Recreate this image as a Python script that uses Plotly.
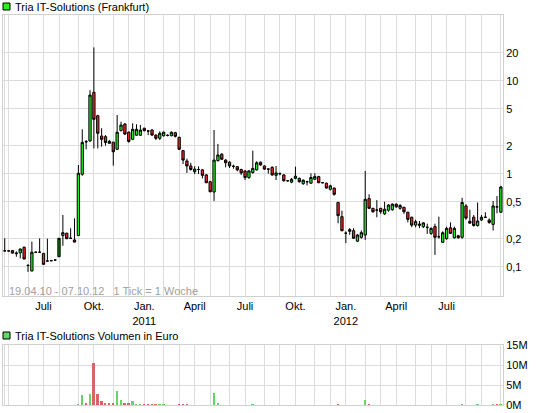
import datetime as dt
import plotly.graph_objects as go

# Weekly quotes, one entry per week starting Monday 19.04.2010
first_week = dt.date(2010, 4, 19)

opens = [
    0.148, 0.148, 0.149, 0.138, 0.141, 0.162, 0.103, 0.090, 0.143, 0.143,
    0.139, 0.115, 0.116, 0.118, 0.128, 0.216, 0.229, 0.202, 0.194, 0.216,
    0.985, 2.22, 2.25, 7.5, 4.2, 2.54, 2.5, 2.23, 2.18, 1.83,
    2.9, 3.42, 2.79, 2.34, 2.59, 2.59, 3.08, 2.88, 2.95, 2.6,
    2.4, 2.56, 2.58, 2.56, 2.76, 2.46, 1.77, 1.37, 1.21, 1.05,
    1.11, 1.1, 0.97, 0.82, 0.635, 1.38, 1.62, 1.4, 1.33, 1.2,
    1.19, 1.11, 1.07, 0.91, 1.03, 1.1, 1.33, 1.21, 1.12, 1.17,
    0.96, 1.0, 0.97, 0.84, 0.81, 0.89, 0.89, 0.78, 0.82, 0.79,
    0.87, 0.93, 0.8, 0.79, 0.68, 0.7, 0.49, 0.345, 0.229, 0.24,
    0.244, 0.188, 0.207, 0.219, 0.54, 0.424, 0.406, 0.424, 0.37, 0.405,
    0.41, 0.47, 0.425, 0.435, 0.385, 0.34, 0.28, 0.278, 0.269, 0.265,
    0.228, 0.27, 0.21, 0.183, 0.2, 0.262, 0.205, 0.215, 0.207, 0.45,
    0.308, 0.34, 0.277, 0.318, 0.34, 0.318, 0.285, 0.44, 0.385,
]
highs = [
    0.202, 0.150, 0.151, 0.146, 0.156, 0.164, 0.107, 0.186, 0.145, 0.202,
    0.140, 0.200, 0.117, 0.119, 0.130, 0.36, 0.232, 0.259, 0.331, 1.24,
    3.0, 2.3, 7.9, 22.8, 4.3, 3.08, 2.6, 2.3, 2.2, 4.27,
    3.62, 3.5, 2.85, 3.48, 3.4, 3.34, 3.12, 2.95, 3.0, 2.65,
    2.85, 2.85, 2.65, 2.85, 2.82, 2.5, 1.8, 1.45, 1.31, 1.2,
    1.2, 1.12, 0.99, 0.84, 2.95, 2.09, 1.66, 1.43, 1.36, 1.25,
    1.21, 1.13, 1.09, 1.09, 1.77, 1.36, 1.35, 1.23, 1.14, 1.2,
    1.21, 1.03, 0.99, 0.85, 0.9, 1.19, 0.91, 0.87, 0.84, 1.01,
    1.01, 0.95, 0.81, 0.8, 0.76, 0.71, 0.5, 0.4, 0.24, 0.26,
    0.26, 0.225, 0.245, 1.07, 0.6, 0.43, 0.52, 0.43, 0.5, 0.47,
    0.48, 0.48, 0.47, 0.44, 0.39, 0.345, 0.32, 0.31, 0.3, 0.29,
    0.265, 0.29, 0.345, 0.24, 0.27, 0.3, 0.27, 0.22, 0.55, 0.47,
    0.41, 0.36, 0.49, 0.36, 0.385, 0.33, 0.51, 0.575, 0.74,
]
lows = [
    0.147, 0.146, 0.139, 0.128, 0.123, 0.120, 0.088, 0.089, 0.142, 0.142,
    0.105, 0.114, 0.115, 0.117, 0.127, 0.168, 0.198, 0.200, 0.182, 0.214,
    0.95, 1.83, 2.2, 1.87, 1.87, 1.95, 2.0, 2.1, 1.22, 1.8,
    2.85, 2.6, 2.15, 2.3, 2.55, 2.55, 2.85, 2.6, 2.55, 2.3,
    2.3, 2.5, 2.52, 2.52, 2.45, 1.8, 1.27, 1.02, 1.08, 0.99,
    0.99, 0.89, 0.79, 0.63, 0.51, 1.35, 1.4, 1.17, 1.15, 1.13,
    1.06, 0.97, 0.855, 0.88, 1.0, 1.08, 1.22, 1.1, 1.0, 0.95,
    0.855, 0.96, 0.82, 0.82, 0.79, 0.87, 0.8, 0.76, 0.75, 0.78,
    0.86, 0.79, 0.79, 0.69, 0.66, 0.58, 0.293, 0.24, 0.18, 0.22,
    0.2, 0.185, 0.2, 0.194, 0.42, 0.38, 0.34, 0.37, 0.36, 0.39,
    0.40, 0.43, 0.41, 0.37, 0.3, 0.266, 0.265, 0.26, 0.26, 0.225,
    0.22, 0.134, 0.2, 0.18, 0.195, 0.225, 0.2, 0.2, 0.2, 0.32,
    0.29, 0.27, 0.27, 0.31, 0.335, 0.29, 0.245, 0.375, 0.38,
]
closes = [
    0.148, 0.148, 0.140, 0.140, 0.155, 0.121, 0.103, 0.143, 0.143, 0.143,
    0.106, 0.115, 0.116, 0.118, 0.202, 0.232, 0.200, 0.202, 0.184, 1.01,
    2.17, 2.2, 7.0, 3.84, 2.72, 2.34, 2.16, 2.12, 1.72, 2.79,
    3.33, 2.67, 2.22, 3.0, 3.0, 2.94, 2.9, 2.88, 2.6, 2.4,
    2.72, 2.79, 2.58, 2.79, 2.52, 1.83, 1.4, 1.21, 1.11, 1.12,
    1.11, 0.96, 0.8, 0.64, 1.4, 1.59, 1.43, 1.31, 1.21, 1.2,
    1.1, 1.02, 0.91, 1.07, 1.14, 1.31, 1.24, 1.12, 1.12, 0.97,
    1.02, 1.0, 0.84, 0.84, 0.87, 0.94, 0.82, 0.85, 0.82, 0.91,
    0.93, 0.8, 0.8, 0.7, 0.74, 0.6, 0.354, 0.244, 0.229, 0.25,
    0.202, 0.219, 0.232, 0.53, 0.424, 0.39, 0.406, 0.39, 0.414, 0.46,
    0.47, 0.44, 0.455, 0.39, 0.323, 0.28, 0.305, 0.287, 0.296, 0.265,
    0.258, 0.207, 0.21, 0.232, 0.258, 0.228, 0.258, 0.205, 0.49, 0.333,
    0.294, 0.277, 0.31, 0.34, 0.34, 0.298, 0.45, 0.44, 0.72,
]
# Weekly turnover in million euro
volume_mio = [
    0, 0, 0, 0, 0, 0, 0, 0, 0, 0,
    0, 0, 0, 0, 0, 0, 0, 0, 0, 0.2,
    2.5, 0.3, 2.85, 10.4, 2.85, 1.0, 0.4, 0.4, 0.6, 3.5,
    1.26, 0.6, 0.6, 1.0, 0.25, 0.25, 0.25, 0.25, 0.25, 0.25,
    0.25, 0.25, 0, 0, 0, 0.25, 0.25, 0.25, 0, 0,
    0, 0, 0, 0, 3.1, 0.55, 0, 0, 0, 0,
    0, 0, 0, 0, 0.25, 0, 0, 0, 0, 0,
    0, 0, 0, 0, 0, 0, 0, 0, 0, 0,
    0, 0, 0, 0, 0, 0, 0.25, 0, 0, 0,
    0, 0, 0, 1.26, 0.25, 0, 0, 0, 0, 0,
    0, 0, 0, 0, 0, 0, 0, 0, 0, 0,
    0, 0, 0, 0, 0, 0, 0, 0, 0.25, 0,
    0, 0, 0.25, 0, 0, 0, 0.25, 0.25, 0.25,
]

price_ticks = [0.1, 0.2, 0.5, 1, 2, 5, 10, 20]
price_tick_text = ["0,1", "0,2", "0,5", "1", "2", "5", "10", "20"]
volume_ticks = [0, 5, 10, 15]
volume_tick_text = ["0M", "5M", "10M", "15M"]
month_names = {1: "Jan.", 4: "April", 7: "Juli", 10: "Okt."}

title_price = "Tria IT-Solutions (Frankfurt)"
title_volume = "Tria IT-Solutions Volumen in Euro"
period_note = "19.04.10 - 07.10.12   1 Tick = 1 Woche"

GREEN = "#22f022"
RED = "#f02828"
VOL_GREEN = "#66d466"
VOL_RED = "#d46666"
GRID = "#dcdcdc"
FONT = "Liberation Sans, Arial, sans-serif"

weeks = [first_week + dt.timedelta(weeks=i) for i in range(len(closes))]
last_week = weeks[-1]

# Grid/ticks: the week that holds the first day of each month
tick_vals, tick_text = [first_week], [""]
y, m = 2010, 5
while dt.date(y, m, 1) <= last_week:
    first = dt.date(y, m, 1)
    wk = first - dt.timedelta(days=first.weekday())
    label = month_names.get(m, "")
    if m == 1:
        label += "<br>%d" % y
    if wk == last_week:
        label = ""
    tick_vals.append(wk)
    tick_text.append(label)
    m += 1
    if m > 12:
        m, y = 1, y + 1

x_start = dt.datetime.combine(first_week, dt.time()) - dt.timedelta(days=3.15)
x_end = dt.datetime.combine(last_week, dt.time()) + dt.timedelta(days=3.85)

vol_colors = [VOL_GREEN if c > o else VOL_RED for o, c in zip(opens, closes)]

fig = go.Figure()
fig.add_trace(go.Candlestick(
    x=weeks, open=opens, high=highs, low=lows, close=closes,
    increasing=dict(fillcolor=GREEN, line=dict(color="black", width=1)),
    decreasing=dict(fillcolor=RED, line=dict(color="black", width=1)),
    whiskerwidth=0, xaxis="x", yaxis="y", showlegend=False,
))
fig.add_trace(go.Bar(
    x=weeks, y=volume_mio, marker=dict(color=vol_colors, line=dict(width=0)),
    width=3.3 * 86400000, xaxis="x2", yaxis="y2", showlegend=False,
))

axis_common = dict(
    showgrid=True, gridcolor=GRID, gridwidth=1, zeroline=False,
    showline=True, mirror=True, linecolor="#d0d0d0", linewidth=1, ticks="",
    tickfont=dict(family=FONT, size=11, color="black"),
)

H_TOP, H_BOT, PLOT_H = 15, 8, 390
main_domain = [(405 - 296) / PLOT_H, 1]
vol_domain = [0, (405 - 345) / PLOT_H]

fig.update_layout(
    width=545, height=413,
    margin=dict(l=3, r=42, t=H_TOP, b=H_BOT),
    paper_bgcolor="white", plot_bgcolor="white",
    font=dict(family=FONT, size=11, color="black"),
    showlegend=False,
    bargap=0,
    boxgap=0.15,
    xaxis=dict(axis_common, type="date", range=[x_start, x_end],
               tickmode="array", tickvals=tick_vals, ticktext=tick_text,
               anchor="y", rangeslider=dict(visible=False)),
    xaxis2=dict(axis_common, type="date", matches="x", anchor="y2",
                tickmode="array", tickvals=tick_vals, showticklabels=False),
    yaxis=dict(axis_common, type="log", domain=main_domain,
               range=[-1.315, 1.706], side="right", anchor="x",
               tickmode="array", tickvals=price_ticks, ticktext=price_tick_text),
    yaxis2=dict(axis_common, domain=vol_domain, range=[0, 15], side="right",
                anchor="x2", tickmode="array", tickvals=volume_ticks,
                ticktext=volume_tick_text),
)


def px_x(px):
    return (px - 3) / 500


def px_y(px):
    return (405 - px) / PLOT_H


# Legend squares and panel titles
for top, fill in ((3, GREEN), (332, VOL_GREEN)):
    fig.add_shape(type="rect", xref="paper", yref="paper",
                  x0=px_x(3), x1=px_x(10), y0=px_y(top), y1=px_y(top + 7),
                  fillcolor=fill, line=dict(color="black", width=1))
fig.add_annotation(text=title_price, xref="paper", yref="paper",
                   x=px_x(13), y=px_y(7), xanchor="left", yanchor="middle",
                   showarrow=False, font=dict(size=11))
fig.add_annotation(text=title_volume, xref="paper", yref="paper",
                   x=px_x(13), y=px_y(336), xanchor="left", yanchor="middle",
                   showarrow=False, font=dict(size=11))
fig.add_annotation(text=period_note, xref="paper", yref="paper",
                   x=px_x(7), y=px_y(291), xanchor="left", yanchor="middle",
                   showarrow=False, font=dict(size=11, color="#a0a0a0"))

fig.write_html("out.html")
